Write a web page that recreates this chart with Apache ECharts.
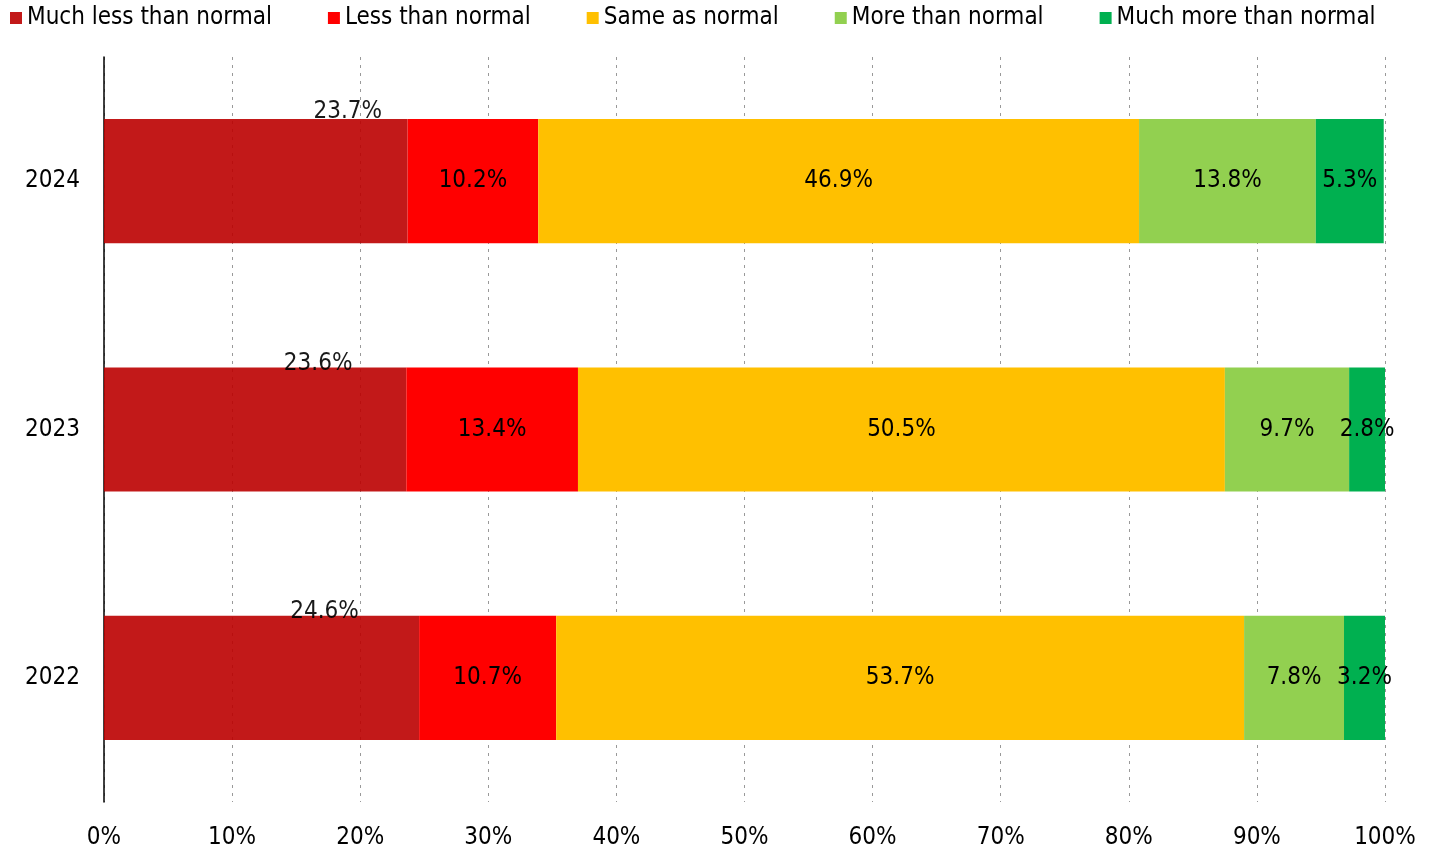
<!DOCTYPE html>
<html>
<head>
<meta charset="utf-8">
<script src="https://cdn.jsdelivr.net/npm/echarts@6/dist/echarts.min.js"></script>
<style>
  html, body { margin: 0; padding: 0; background: #fff; }
  #chart { width: 1434px; height: 851px; }
</style>
</head>
<body>
<div id="chart"></div>
<script>
// categories (bottom to top) and series values, in %
const years = ['2022', '2023', '2024']
const seriesNames = ['Much less than normal', 'Less than normal', 'Same as normal', 'More than normal', 'Much more than normal']
const muchLess = [24.6, 23.6, 23.7]
const less = [10.7, 13.4, 10.2]
const same = [53.7, 50.5, 46.9]
const more = [7.8, 9.7, 13.8]
const muchMore = [3.2, 2.8, 5.3]
const xTicks = [0, 10, 20, 30, 40, 50, 60, 70, 80, 90, 100]

const colors = ['#BB0000', '#FF0000', '#FFC000', '#92D050', '#00B050']
// the first series labels sit on the top edge, shifted right as in the original
const firstLabelOffset = [[63, 8], [63, 8], [92, 5]]

const font = '"DejaVu Sans Condensed", "DejaVu Sans"'
const fontSize = 24

let myChart = echarts.init(document.getElementById('chart'))

const allValues = [muchLess, less, same, more, muchMore]

const series = allValues.map((vals, i) => {
  let data = vals
  if (i === 0) {
    data = vals.map((v, k) => ({
      value: v,
      label: { offset: firstLabelOffset[k] }
    }))
  }
  return {
    name: seriesNames[i],
    type: 'bar',
    stack: 'total',
    barWidth: '50%',
    itemStyle: {
      color: colors[i],
      opacity: i === 0 ? 0.9 : 1
    },
    label: {
      show: true,
      position: i === 0 ? 'top' : 'inside',
      distance: 0,
      color: '#000',
      fontFamily: font,
      fontSize: fontSize,
      formatter: (p) => p.value.toFixed(1) + '%'
    },
    emphasis: { disabled: true },
    data: data
  }
})

let option = {
  animation: false,
  textStyle: { fontFamily: font },
  legend: {
    left: 5,
    top: 1,
    itemWidth: 12,
    itemHeight: 12,
    itemGap: 56,
    icon: 'rect',
    textStyle: {
      fontFamily: font,
      fontSize: fontSize,
      color: '#000'
    },
    data: seriesNames
  },
  grid: {
    left: 104,
    right: 49,
    top: 57,
    bottom: 49,
    containLabel: false
  },
  xAxis: {
    type: 'value',
    min: xTicks[0],
    max: xTicks[xTicks.length - 1],
    interval: 10,
    axisLine: { show: false },
    axisTick: { show: false },
    axisLabel: {
      margin: 24,
      color: '#000',
      fontFamily: font,
      fontSize: fontSize,
      formatter: (v) => v + '%'
    },
    splitLine: {
      show: true,
      lineStyle: { color: '#999', type: [3, 5], width: 1 }
    }
  },
  yAxis: {
    type: 'category',
    data: years,
    axisLine: { show: true, lineStyle: { color: '#000', width: 1.5 } },
    axisTick: { show: false },
    axisLabel: {
      margin: 24,
      color: '#000',
      fontFamily: font,
      fontSize: fontSize
    },
    splitLine: { show: false }
  },
  series: series
}

option && myChart.setOption(option)
</script>
</body>
</html>
